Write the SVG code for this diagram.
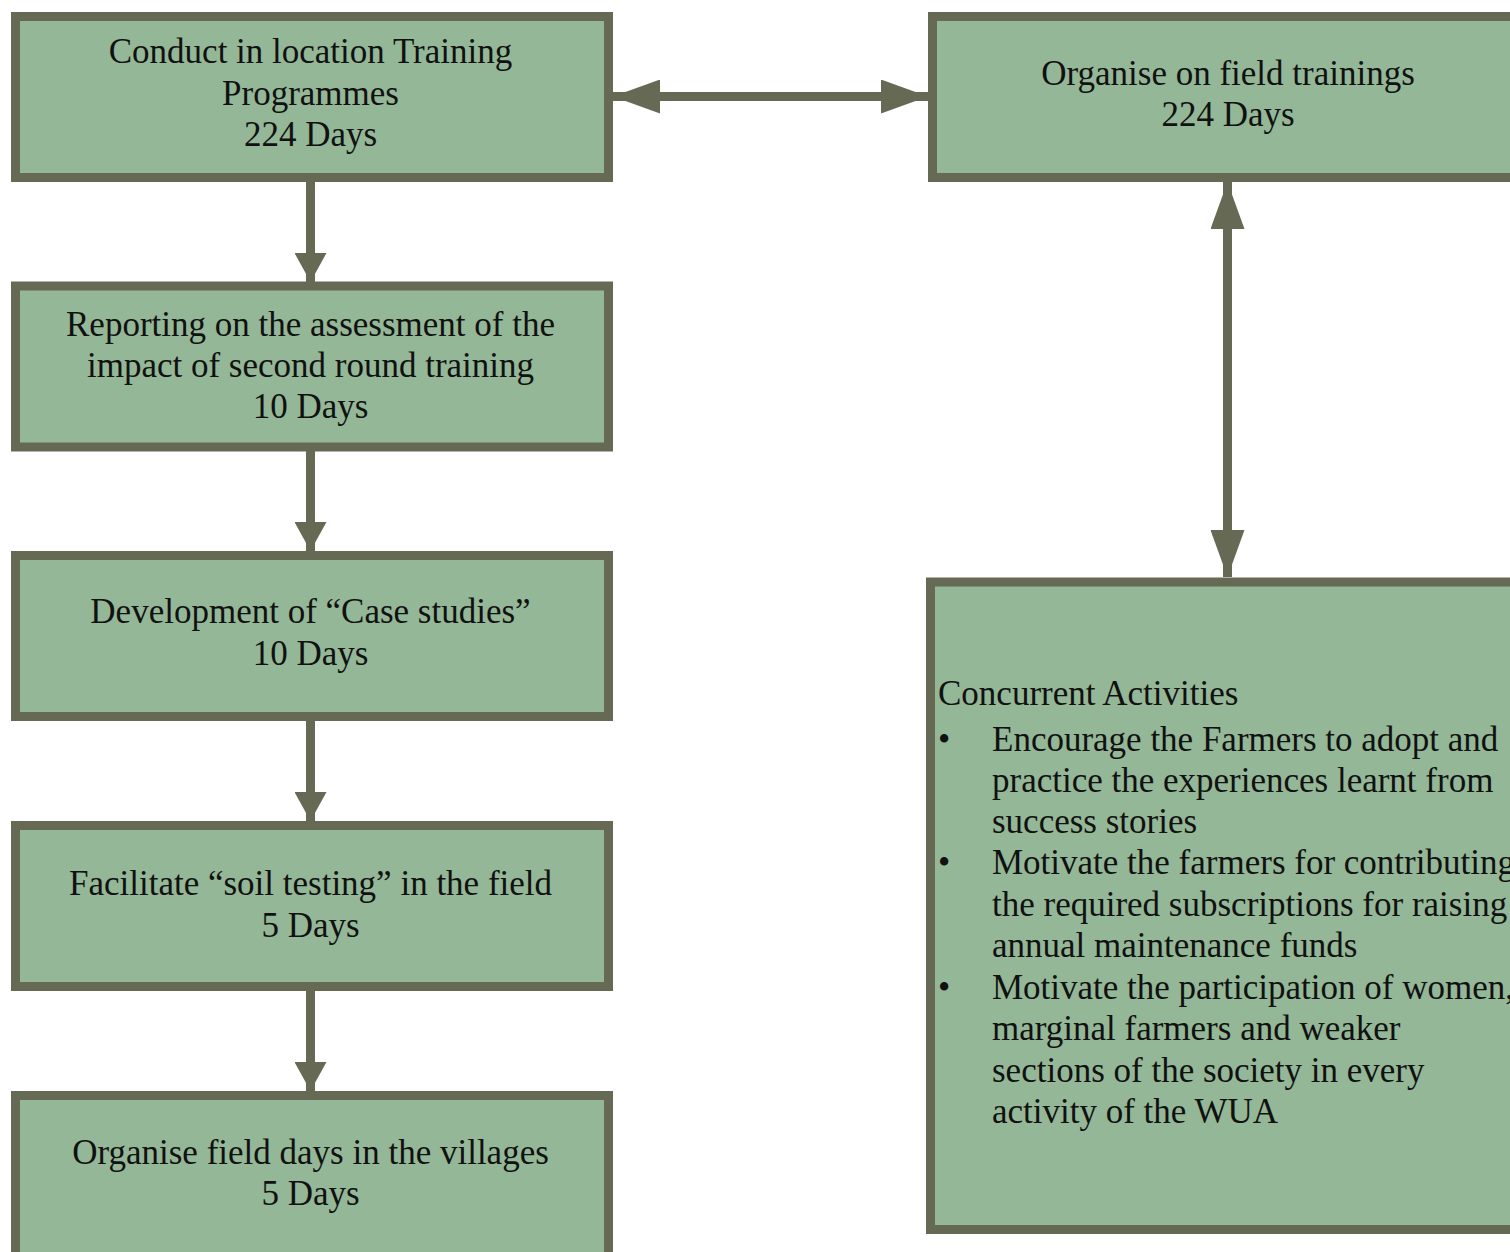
<svg xmlns="http://www.w3.org/2000/svg" width="1510" height="1252" viewBox="0 0 1510 1252">
<style>
.box{fill:#94b797;stroke:#666a55;stroke-width:9}
.t{font-family:'Liberation Serif','DejaVu Serif',serif;font-size:35px;fill:#111}
.c{text-anchor:middle}
.conn{stroke:#666a55;stroke-width:9;fill:none}
</style>
<defs>
<marker id="hs" markerUnits="userSpaceOnUse" viewBox="0 0 29 32" refX="29" refY="16" markerWidth="29" markerHeight="32" orient="auto-start-reverse"><path d="M0,0 L29,16 L0,32 Z" fill="#666a55"/></marker>
<marker id="hl" markerUnits="userSpaceOnUse" viewBox="0 0 47 34" refX="47" refY="17" markerWidth="47" markerHeight="34" orient="auto-start-reverse"><path d="M0,0 L47,17 L0,34 Z" fill="#666a55"/></marker>
</defs>
<rect width="1510" height="1252" fill="#fff"/>
<g id="connectors">
<line class="conn" x1="310.5" y1="182" x2="310.5" y2="282" marker-end="url(#hs)"/>
<line class="conn" x1="310.5" y1="451" x2="310.5" y2="551" marker-end="url(#hs)"/>
<line class="conn" x1="310.5" y1="721" x2="310.5" y2="821" marker-end="url(#hs)"/>
<line class="conn" x1="310.5" y1="991" x2="310.5" y2="1091" marker-end="url(#hs)"/>
<line class="conn" x1="613" y1="96.5" x2="928" y2="96.5" marker-start="url(#hl)" marker-end="url(#hl)"/>
<line class="conn" x1="1227.5" y1="182" x2="1227.5" y2="577" marker-start="url(#hl)" marker-end="url(#hl)"/>
</g>
<g id="n1">
<rect class="box" x="15.5" y="16.5" width="593" height="161"/>
<text class="t c" x="310.5" y="63">Conduct in location Training</text>
<text class="t c" x="310.5" y="105">Programmes</text>
<text class="t c" x="310.5" y="146">224 Days</text>
</g>
<g id="n2">
<rect class="box" x="15.5" y="286" width="593" height="161"/>
<text class="t c" x="310.5" y="336">Reporting on the assessment of the</text>
<text class="t c" x="310.5" y="377">impact of second round training</text>
<text class="t c" x="310.5" y="418">10 Days</text>
</g>
<g id="n3">
<rect class="box" x="15.5" y="555.5" width="593" height="161"/>
<text class="t c" x="310.5" y="623">Development of “Case studies”</text>
<text class="t c" x="310.5" y="665">10 Days</text>
</g>
<g id="n4">
<rect class="box" x="15.5" y="825.5" width="593" height="161"/>
<text class="t c" x="310.5" y="895">Facilitate “soil testing” in the field</text>
<text class="t c" x="310.5" y="937">5 Days</text>
</g>
<g id="n5">
<rect class="box" x="15.5" y="1095.5" width="593" height="175"/>
<text class="t c" x="310.5" y="1164">Organise field days in the villages</text>
<text class="t c" x="310.5" y="1205">5 Days</text>
</g>
<g id="n6">
<rect class="box" x="932.5" y="16.5" width="620" height="161"/>
<text class="t c" x="1228" y="85">Organise on field trainings</text>
<text class="t c" x="1228" y="126">224 Days</text>
</g>
<g id="n7">
<rect class="box" x="930.5" y="582" width="620" height="647.5"/>
<text class="t" x="938" y="705">Concurrent Activities</text>
<text class="t" x="938" y="751">•</text>
<text class="t" x="992" y="751">Encourage the Farmers to adopt and</text>
<text class="t" x="992" y="792">practice the experiences learnt from</text>
<text class="t" x="992" y="833">success stories</text>
<text class="t" x="938" y="874">•</text>
<text class="t" x="992" y="874">Motivate the farmers for contributing</text>
<text class="t" x="992" y="916">the required subscriptions for raising</text>
<text class="t" x="992" y="957">annual maintenance funds</text>
<text class="t" x="938" y="999">•</text>
<text class="t" x="992" y="999">Motivate the participation of women,</text>
<text class="t" x="992" y="1040">marginal farmers and weaker</text>
<text class="t" x="992" y="1082">sections of the society in every</text>
<text class="t" x="992" y="1123">activity of the WUA</text>
</g>
</svg>
